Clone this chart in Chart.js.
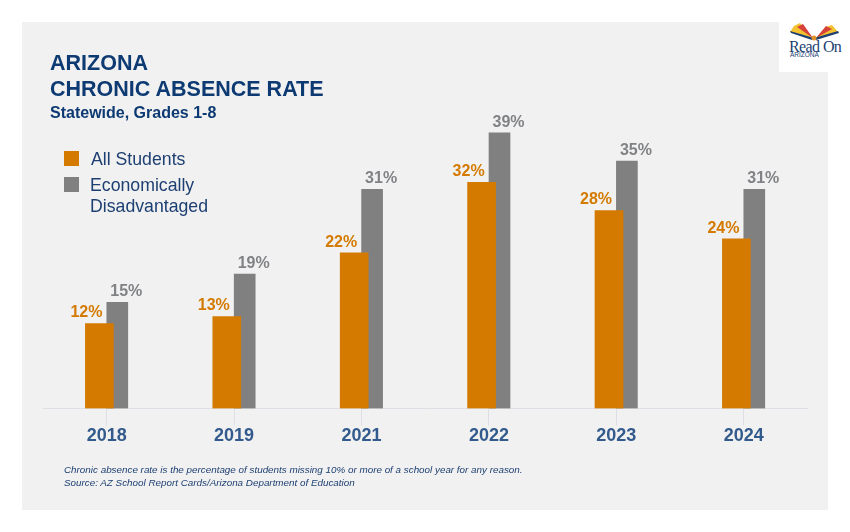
<!DOCTYPE html>
<html lang="en">
<head>
<meta charset="UTF-8">
<title>Arizona Chronic Absence Rate</title>
<script src="https://cdn.jsdelivr.net/npm/chart.js"></script>
<style>
  html, body { margin: 0; padding: 0; background: #fff; }
  body { width: 850px; height: 532px; position: relative; overflow: hidden; font-family: "Liberation Sans", Arial, sans-serif; }
  #panel { position: absolute; left: 22px; top: 22px; width: 806px; height: 488px; background: #f1f1f1; }
  #logoBox { position: absolute; left: 779px; top: 22px; width: 71px; height: 50px; background: #fff; }
  #logo { position: absolute; left: 779px; top: 15px; }
  canvas { position: absolute; left: 0; top: 0; }
  .txt { position: absolute; white-space: nowrap; }
  #title { left: 50px; top: 50px; font-size: 21.5px; line-height: 26px; font-weight: bold; color: #0d3a72; }
  #subtitle { left: 50px; top: 104px; font-size: 16px; line-height: 18px; font-weight: bold; color: #0d3a72; }
  .swatch { position: absolute; left: 64px; width: 15px; height: 15px; }
  .legend { position: absolute; left: 90px; font-size: 17.7px; line-height: 21px; color: #1d3f72; white-space: nowrap; }
  #note { left: 64px; top: 464px; font-size: 9.85px; line-height: 12.5px; font-style: italic; color: #1d3f72; }
</style>
</head>
<body>
<div id="panel"></div>
<div id="logoBox"></div>
<svg id="logo" width="71" height="50" viewBox="779 15 71 50">
  <polygon points="790,32 812,38 800,23 794,26" fill="#f2c230"/>
  <polygon points="797,27 813,38 803,24" fill="#d8413a"/>
  <polygon points="816,38 838,32 832,25 826,27" fill="#f2c230"/>
  <polygon points="816,38 832,29 826,26" fill="#d8413a"/>
  <polygon points="791,33 812,40 814,38 790,31" fill="#1d3f72"/>
  <polygon points="816,40 839,33 838,31 814,38" fill="#1d3f72"/>
  <circle cx="814" cy="38" r="2.5" fill="#e0932a"/>
</svg>
<div class="txt" style="left:789px;top:38px;font-family:'Liberation Serif',serif;font-size:16px;line-height:17px;letter-spacing:-0.6px;color:#1d3f72">Read On</div>
<div class="txt" style="left:790px;top:51px;font-size:6.5px;line-height:7px;color:#1d3f72">ARIZONA</div>

<canvas id="chart" width="850" height="532"></canvas>

<div class="txt" id="title">ARIZONA<br>CHRONIC ABSENCE RATE</div>
<div class="txt" id="subtitle">Statewide, Grades 1-8</div>
<div class="swatch" style="top:151px;background:#d47a00"></div>
<div class="legend" style="left:91px;top:149px">All Students</div>
<div class="swatch" style="top:177px;background:#808080"></div>
<div class="legend" style="top:175px">Economically<br>Disadvantaged</div>
<div class="txt" id="note">Chronic absence rate is the percentage of students missing 10% or more of a school year for any reason.<br>Source: AZ School Report Cards/Arizona Department of Education</div>

<script>
const years = ["2018", "2019", "2021", "2022", "2023", "2024"];
const allStudents = [12, 13, 22, 32, 28, 24];
const econDisadvantaged = [15, 19, 31, 39, 35, 31];

const ORANGE = "#d47a00";
const GRAY = "#808080";

// bars sit off-centre from the tick and overlap, so nudge them after layout
const shiftBars = {
  id: "shiftBars",
  afterDatasetsUpdate(chart) {
    chart.data.datasets.forEach((ds, i) => {
      chart.getDatasetMeta(i).data.forEach((bar) => {
        bar.x += ds.shiftX;
      });
    });
  },
};

// Value labels above each bar
const valueLabels = {
  id: "valueLabels",
  afterDatasetsDraw(chart) {
    const ctx = chart.ctx;
    ctx.save();
    ctx.font = "bold 16px 'Liberation Sans', Arial, sans-serif";
    ctx.textAlign = "center";
    ctx.textBaseline = "middle";
    chart.data.datasets.forEach((ds, i) => {
      ctx.fillStyle = ds.labelColor;
      chart.getDatasetMeta(i).data.forEach((bar, j) => {
        ctx.fillText(ds.data[j] + "%", bar.x + ds.labelDx, bar.y - 10.5);
      });
    });
    ctx.restore();
  },
};

new Chart(document.getElementById("chart"), {
  type: "bar",
  data: {
    labels: years,
    datasets: [
      {
        label: "All Students",
        data: allStudents,
        backgroundColor: ORANGE,
        barThickness: 28,
        grouped: false,
        order: 1,
        shiftX: -7.3,
        labelDx: -13,
        labelColor: ORANGE,
      },
      {
        label: "Economically Disadvantaged",
        data: econDisadvantaged,
        backgroundColor: GRAY,
        barThickness: 21,
        grouped: false,
        order: 2,
        shiftX: 10.6,
        labelDx: 9,
        labelColor: "#808285",
      },
    ],
  },
  options: {
    responsive: false,
    animation: false,
    layout: { padding: { left: 43, right: 42.6, top: 55, bottom: 85 } },
    plugins: { legend: { display: false }, title: { display: false }, tooltip: { enabled: false } },
    scales: {
      x: {
        grid: { offset: false, drawOnChartArea: false, color: "#dcdfe3", tickLength: 17 },
        border: { color: "#dcdfe3" },
        ticks: {
          color: "#325a8c",
          padding: 0,
          maxRotation: 0,
          font: { family: "'Liberation Sans', Arial, sans-serif", size: 18, weight: "bold" },
        },
      },
      y: { display: false, min: 0, max: 50 },
    },
  },
  plugins: [shiftBars, valueLabels],
});
</script>
</body>
</html>
